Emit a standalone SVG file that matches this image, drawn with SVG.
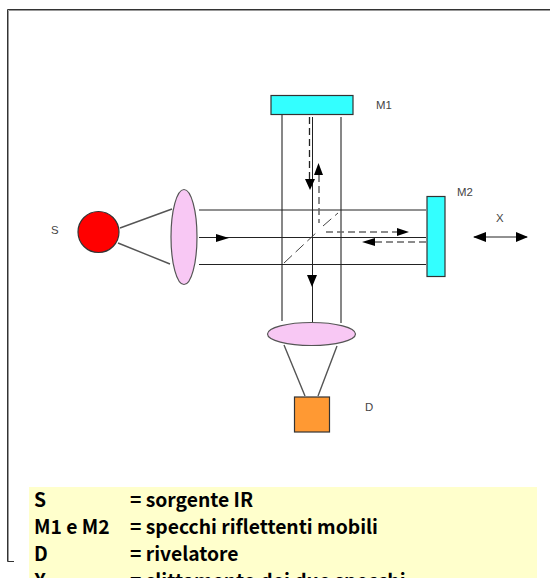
<svg xmlns="http://www.w3.org/2000/svg" width="550" height="578" viewBox="0 0 550 578">
<style>
.l{fill:none;stroke:#222;stroke-width:1}
.g{fill:none;stroke:#555;stroke-width:1.4}
.d{fill:none;stroke:#222;stroke-width:1.3;stroke-dasharray:7 4}
.e{fill:none;stroke:#666;stroke-width:1.5;stroke-dasharray:7 4}
.s{stroke:#333;stroke-width:1.2}
.t{font-family:"Liberation Sans",Arial,sans-serif;font-size:11.4px;fill:#444}
.k{font-family:"Noto Sans CJK SC","Noto Sans",sans-serif;font-size:19.3px;font-weight:700;fill:#000}
.a{fill:#000}
</style>
<rect width="550" height="578" fill="#fff"/>
<g id="frame" fill="none">
<path d="M550 10.500H8.500V561" stroke="#999" stroke-width="1"/>
<path d="M550 9.500H7.500V561.500H14" stroke="#333" stroke-width="1"/>
</g>
<g id="connectors">
<path class="g" d="M282 115V321M341 117V323"/>
<path class="l" d="M312.500 117V322"/>
<path class="l" d="M199 210H426M199 237.500H426M199 264.500H426"/>
<path class="g" d="M120 228L172 209M118 243L170 264"/>
<path class="g" d="M284 345L305 396M337 346L318 396"/>
<path class="d" d="M309.500 117V180"/>
<path class="e" d="M319 175V223"/>
<path class="e" d="M326 232H397"/>
<path class="e" d="M426 242H375"/>
<path d="M284 263L317 232M323 226L338 213" fill="none" stroke="#444" stroke-width="1" stroke-dasharray="11 5"/>
<path class="l" d="M474 237H527"/>
<path class="a" d="M305 179H315L310 190ZM318.500 163L323 175H314ZM409 232L397 228V236ZM362 242L375 238V246ZM229 238L216 234V242ZM312 287L307 275H317ZM473 237L486 232V242ZM528 237L516 232V242Z"/>
</g>
<g id="M1"><rect x="271" y="95.500" width="82" height="19" fill="#33ffff" stroke="#333" stroke-width="1.200"/><text class="t" x="376" y="109">M1</text></g>
<g id="M2"><rect x="427" y="196.500" width="18" height="80" fill="#33ffff" stroke="#333" stroke-width="1.200"/><text class="t" x="457" y="196">M2</text></g>
<g id="S"><circle cx="98.500" cy="232" r="20.500" fill="#ff0000" class="s"/><text class="t" x="51" y="234">S</text></g>
<g id="lens1"><ellipse cx="184" cy="237" rx="13" ry="47.500" fill="#f8c8f4" stroke="#555" stroke-width="1.200"/></g>
<g id="lens2"><ellipse cx="311.500" cy="334" rx="44" ry="11.500" fill="#f8c8f4" stroke="#555" stroke-width="1.200"/></g>
<g id="D"><rect x="294.500" y="397" width="35" height="35" fill="#ff9933" class="s"/><text class="t" x="365" y="411">D</text></g>
<g id="X"><text class="t" x="496" y="222">X</text></g>
<g id="legend">
<rect x="29" y="487" width="508" height="91" fill="#ffffcc"/>
<text class="k" x="34" y="507">S</text><text class="k" x="130" y="507">= sorgente IR</text>
<text class="k" x="34" y="534">M1 e M2</text><text class="k" x="130" y="534">= specchi riflettenti mobili</text>
<text class="k" x="34" y="561">D</text><text class="k" x="130" y="561">= rivelatore</text>
<text class="k" x="34" y="588">X</text><text class="k" x="130" y="588">= slittamento dei due specchi</text>
</g>
</svg>
